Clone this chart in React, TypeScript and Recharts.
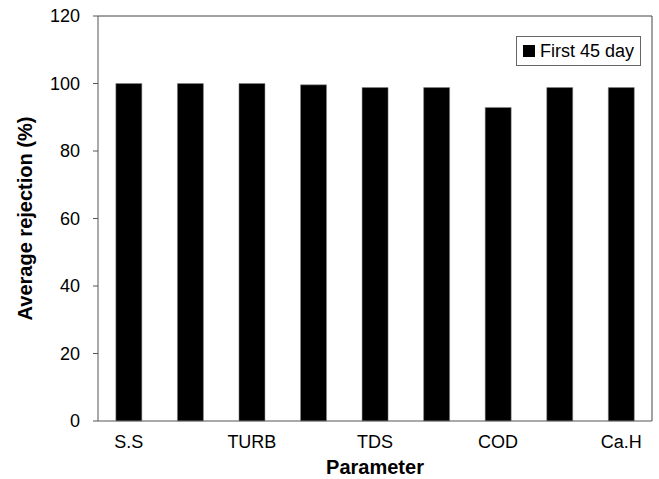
import React from 'react';
import { BarChart, Bar, XAxis, YAxis, CartesianGrid } from 'recharts';

// parameters (only every other label is printed on the axis)
const parameters = ['S.S', 'COLOR', 'TURB', 'EC', 'TDS', 'BOD', 'COD', 'T.H', 'Ca.H'];
const first45Day = [100, 100, 100, 99.6, 98.8, 98.8, 92.9, 98.8, 98.8];
const yTicks = [0, 20, 40, 60, 80, 100, 120];
const seriesName = 'First 45 day';

const chartData = parameters.map((name, i) => ({ name, value: first45Day[i] }));

const FONT = '"Liberation Sans", Arial, sans-serif';
const AXIS = '#555';

// grid used only as the top / right frame of the plot area
const topEdge = ({ offset }: any) => [offset.top];
const rightEdge = ({ offset }: any) => [offset.left + offset.width];

const App: React.FC = () => {
  return (
    <div style={{ position: 'absolute', left: 0, top: 0, width: 659, height: 479, background: '#fff' }}>
      <BarChart
        width={659}
        height={479}
        data={chartData}
        margin={{ top: 16, right: 7, left: 0, bottom: 0 }}
        barCategoryGap="29%"
      >
        <CartesianGrid
          stroke="#444"
          horizontalCoordinatesGenerator={topEdge}
          verticalCoordinatesGenerator={rightEdge}
        />
        <XAxis
          dataKey="name"
          interval={1}
          height={58}
          tickLine={false}
          stroke={AXIS}
          tick={{ fill: '#000', fontSize: 18, fontFamily: FONT }}
          tickMargin={8}
          label={{ value: 'Parameter', position: 'insideBottom', offset: 5, fill: '#000', fontSize: 20, fontWeight: 'bold', fontFamily: FONT }}
        />
        <YAxis
          domain={[0, 120]}
          ticks={yTicks}
          width={98}
          stroke={AXIS}
          tickSize={5}
          tickMargin={13}
          tick={{ fill: '#000', fontSize: 18, fontFamily: FONT }}
          label={{ value: 'Average rejection (%)', angle: -90, position: 'insideLeft', offset: 25, style: { textAnchor: 'middle' }, fill: '#000', fontSize: 20, fontWeight: 'bold', fontFamily: FONT }}
        />
        <Bar dataKey="value" name={seriesName} fill="#000" stroke="#888" strokeWidth={0.5} isAnimationActive={false} />
      </BarChart>
      <div
        style={{
          position: 'absolute',
          left: 516,
          top: 36,
          height: 28,
          display: 'flex',
          alignItems: 'center',
          border: '1px solid #666',
          padding: '0 6px',
          background: '#fff',
          fontFamily: FONT,
          fontSize: 18,
          color: '#000',
        }}
      >
        <span style={{ width: 12, height: 12, background: '#000', marginRight: 5, display: 'inline-block' }} />
        {seriesName}
      </div>
    </div>
  );
};

export default App;
